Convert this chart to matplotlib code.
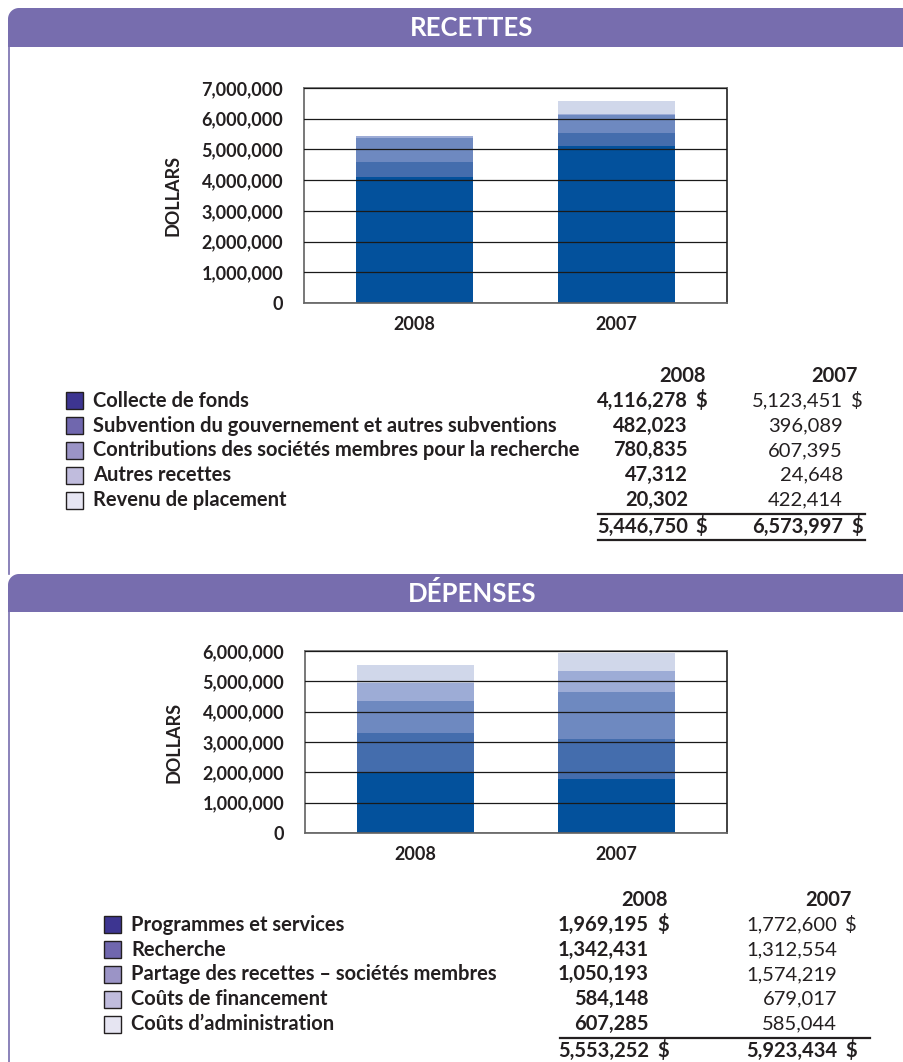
import numpy as np
import matplotlib
matplotlib.use("Agg")
import matplotlib.pyplot as plt
from matplotlib.patches import Rectangle, PathPatch
from matplotlib.path import Path

# ---------------- data ----------------
years = ["2008", "2007"]

rec_cats = ["Collecte de fonds",
            "Subvention du gouvernement et autres subventions",
            "Contributions des sociétés membres pour la recherche",
            "Autres recettes",
            "Revenu de placement"]
rec_2008 = [4116278, 482023, 780835, 47312, 20302]
rec_2007 = [5123451, 396089, 607395, 24648, 422414]

dep_cats = ["Programmes et services",
            "Recherche",
            "Partage des recettes – sociétés membres",
            "Coûts de financement",
            "Coûts d’administration"]
dep_2008 = [1969195, 1342431, 1050193, 584148, 607285]
dep_2007 = [1772600, 1312554, 1574219, 679017, 585044]

rec_ticks = [0, 1000000, 2000000, 3000000, 4000000, 5000000, 6000000, 7000000]
dep_ticks = [0, 1000000, 2000000, 3000000, 4000000, 5000000, 6000000]

# ---------------- style ----------------
bar_colors = ["#03519c", "#446dad", "#6e89c0", "#9dacd6", "#d0d7ea"]
swatch_colors = ["#3d3591", "#7067ae", "#9b94c6", "#c0bcdd", "#e6e5f2"]
band_color = "#776dae"
txt_color = "#231f20"
FONT = ["Lato", "DejaVu Sans"]
plt.rcParams["font.family"] = FONT

W, H = 904, 1062
fig = plt.figure(figsize=(W / 100, H / 100), dpi=100)
bg = fig.add_axes([0, 0, 1, 1])
bg.set_xlim(0, W)
bg.set_ylim(H, 0)
bg.axis("off")


def band(y0, y1, title):
    r = 11
    x0 = 8
    th = np.linspace(np.pi, 1.5 * np.pi, 20)
    arc = np.column_stack([x0 + r + r * np.cos(th), y0 + r + r * np.sin(th)])
    verts = np.vstack([[x0, y1], arc, [W + 2, y0], [W + 2, y1], [x0, y1]])
    codes = [Path.MOVETO] + [Path.LINETO] * (len(verts) - 2) + [Path.CLOSEPOLY]
    bg.add_patch(PathPatch(Path(verts, codes), fc=band_color, ec="none"))
    bg.text(472, (y0 + y1) / 2 + 1, title, color="white", fontsize=18.5,
            fontweight="bold", ha="center", va="center")


band(8, 47, "RECETTES")
band(574, 612, "DÉPENSES")
bg.plot([9, 9], [47, 574], color=band_color, lw=1.2)
bg.plot([9, 9], [612, H], color=band_color, lw=1.2)


def bar_chart(rect_px, v2008, v2007, ticks, ymax):
    l, r, t, b = rect_px
    ax = fig.add_axes([l / W, 1 - b / H, (r - l) / W, (b - t) / H])
    x = np.arange(len(years))
    data = np.array([v2008, v2007]).T
    bottom = np.zeros(len(years))
    for i, row in enumerate(data):
        ax.bar(x, row, bottom=bottom, width=0.58, color=bar_colors[i],
               zorder=1, linewidth=0)
        bottom += row
    ax.set_xlim(-0.55, 1.55)
    ax.set_ylim(0, ymax)
    ax.set_yticks(ticks)
    ax.set_yticklabels([f"{v:,}" for v in ticks])
    ax.set_xticks(x)
    ax.set_xticklabels(years)
    ax.yaxis.grid(True, color="#1a1a1a", lw=0.9, zorder=3)
    ax.set_axisbelow(False)
    ax.tick_params(axis="both", length=0, labelsize=13, colors=txt_color)
    ax.tick_params(axis="y", pad=15)
    ax.tick_params(axis="x", pad=9)
    for lab in ax.get_xticklabels() + ax.get_yticklabels():
        lab.set_fontweight("bold")
    for s in ["left", "bottom", "top"]:
        ax.spines[s].set_color("#6d6d6d")
        ax.spines[s].set_linewidth(1.3)
    ax.spines["right"].set_color("#333333")
    ax.spines["right"].set_linewidth(1.3)
    ax.set_ylabel("DOLLARS", fontsize=13, fontweight="bold", color=txt_color,
                  labelpad=14)
    return ax


bar_chart((304, 727, 88, 303), rec_2008, rec_2007, rec_ticks, 7000000)
bar_chart((305, 727, 651, 833), dep_2008, dep_2007, dep_ticks, 6000000)


def table(cats, v8, v7, sw_x, txt_x, y_head, c8, c7, dollar8, dollar7,
          line_x, line_y, bottom_line=None):
    fs = 14.5
    bg.text(c8[0], y_head, years[0], fontsize=fs, fontweight="bold",
            ha="right", va="center", color=txt_color)
    bg.text(c7[0], y_head, years[1], fontsize=fs, fontweight="bold",
            ha="right", va="center", color=txt_color)
    for i, cat in enumerate(cats):
        y = y_head + 24.8 * (i + 1)
        bg.add_patch(Rectangle((sw_x, y - 8.5), 17, 17, fc=swatch_colors[i],
                               ec="#231f20", lw=1.0))
        bg.text(txt_x, y, cat, fontsize=fs, fontweight="bold", ha="left",
                va="center", color=txt_color)
        bg.text(c8[1], y, f"{v8[i]:,}", fontsize=fs, fontweight="bold",
                ha="right", va="center", color=txt_color)
        bg.text(c7[1], y, f"{v7[i]:,}", fontsize=fs, ha="right",
                va="center", color=txt_color)
        if i == 0:
            bg.text(dollar8, y, "$", fontsize=fs, fontweight="bold",
                    ha="right", va="center", color=txt_color)
            bg.text(dollar7, y, "$", fontsize=fs, ha="right", va="center",
                    color=txt_color)
    yt = y_head + 24.8 * 6 + 2
    bg.plot(line_x, [line_y, line_y], color="#231f20", lw=1.6)
    if bottom_line is not None:
        bg.plot(line_x, [bottom_line, bottom_line], color="#231f20", lw=1.6)
    bg.text(c8[1], yt, f"{sum(v8):,}", fontsize=fs, fontweight="bold",
            ha="right", va="center", color=txt_color)
    bg.text(dollar8, yt, "$", fontsize=fs, fontweight="bold",
            ha="right", va="center", color=txt_color)
    bg.text(c7[1], yt, f"{sum(v7):,}", fontsize=fs, fontweight="bold",
            ha="right", va="center", color=txt_color)
    bg.text(dollar7, yt, "$", fontsize=fs, fontweight="bold",
            ha="right", va="center", color=txt_color)


table(rec_cats, rec_2008, rec_2007, 66, 93, 376,
      (706, 688), (858, 843), 707, 863, [598, 865], 514, bottom_line=540)
table(dep_cats, dep_2008, dep_2007, 104, 131, 900,
      (668, 649), (852, 837), 669, 857, [560, 870], 1038)

fig.savefig("out.png", dpi=100)
